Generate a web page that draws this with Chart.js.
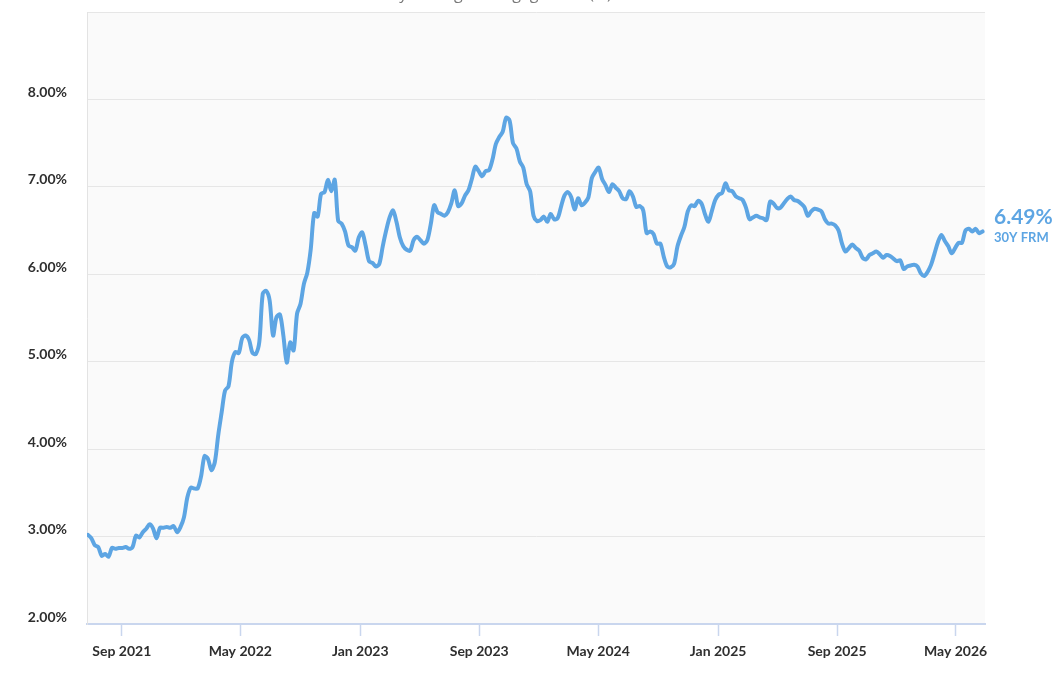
<!DOCTYPE html>
<html>
<head>
<meta charset="utf-8">
<script src="https://cdn.jsdelivr.net/npm/chart.js@4.4.1/dist/chart.umd.min.js"></script>
<style>
  html, body { margin: 0; padding: 0; background: #fff; }
</style>
</head>
<body>
<canvas id="rateChart" width="1064" height="686"></canvas>
<script>
const ctx = document.getElementById("rateChart");

const BLUE = "#5da5e3";
const DAY = 86400000;

const chartTitle = "Weekly Average Mortgage Rate (%)";
const seriesName = "30Y FRM";

// weekly readings, first one on this date, then every 7 days
const firstWeek = "2021-06-24";

const rates2021 = [3.02, 2.98, 2.90, 2.88, 2.78, 2.80, 2.77, 2.87, 2.86, 2.87,
  2.87, 2.88, 2.86, 2.88, 3.01, 2.99, 3.05, 3.09, 3.14, 3.09, 2.98, 3.10, 3.10,
  3.11, 3.10, 3.12, 3.05, 3.11];
const rates2022 = [3.22, 3.45, 3.56, 3.55, 3.55, 3.69, 3.92, 3.89, 3.76, 3.85,
  4.16, 4.42, 4.67, 4.72, 5.00, 5.11, 5.10, 5.27, 5.30, 5.25, 5.10, 5.09, 5.23,
  5.78, 5.81, 5.70, 5.30, 5.51, 5.54, 5.30, 4.99, 5.22, 5.13, 5.55, 5.66, 5.89,
  6.02, 6.29, 6.70, 6.66, 6.92, 6.94, 7.08, 6.95, 7.08, 6.61, 6.58, 6.49, 6.33,
  6.31, 6.27, 6.42];
const rates2023 = [6.48, 6.33, 6.15, 6.13, 6.09, 6.12, 6.32, 6.50, 6.65, 6.73,
  6.60, 6.42, 6.32, 6.28, 6.27, 6.39, 6.43, 6.39, 6.35, 6.39, 6.57, 6.79, 6.71,
  6.69, 6.67, 6.71, 6.81, 6.96, 6.78, 6.81, 6.90, 6.96, 7.09, 7.23, 7.18, 7.12,
  7.18, 7.19, 7.31, 7.49, 7.57, 7.63, 7.79, 7.76, 7.50, 7.44, 7.29, 7.22, 7.03,
  6.95, 6.67, 6.61];
const rates2024 = [6.62, 6.66, 6.60, 6.69, 6.63, 6.64, 6.77, 6.90, 6.94, 6.88,
  6.74, 6.87, 6.79, 6.82, 6.88, 7.10, 7.17, 7.22, 7.09, 7.02, 6.94, 7.03, 6.99,
  6.95, 6.87, 6.86, 6.95, 6.89, 6.77, 6.78, 6.73, 6.47, 6.49, 6.46, 6.35, 6.35,
  6.20, 6.09, 6.08, 6.12, 6.32, 6.44, 6.54, 6.72, 6.79, 6.78, 6.84, 6.81, 6.69,
  6.60, 6.72, 6.85];
const rates2025 = [6.91, 6.93, 7.04, 6.96, 6.95, 6.89, 6.87, 6.85, 6.76, 6.63,
  6.65, 6.67, 6.65, 6.64, 6.62, 6.83, 6.81, 6.76, 6.76, 6.81, 6.86, 6.89, 6.85,
  6.84, 6.81, 6.77, 6.67, 6.72, 6.75, 6.74, 6.72, 6.63, 6.58, 6.58, 6.56, 6.50,
  6.35, 6.26, 6.30, 6.34, 6.30, 6.27, 6.19, 6.17, 6.22, 6.24, 6.26, 6.23, 6.19,
  6.22, 6.21, 6.18, 6.15];
const rates2026 = [6.16, 6.06, 6.09, 6.10, 6.11, 6.09, 6.01, 5.98, 6.03, 6.11,
  6.24, 6.37, 6.45, 6.38, 6.32, 6.24, 6.30, 6.36, 6.36, 6.50, 6.52, 6.49, 6.52,
  6.47, 6.49];

const xRange = ["2021-06-22", "2026-06-30"];
const tickDates = ["2021-09-01", "2022-05-01", "2023-01-01", "2023-09-01",
  "2024-05-01", "2025-01-01", "2025-09-01", "2026-05-01"];
const tickLabels = ["Sep 2021", "May 2022", "Jan 2023", "Sep 2023",
  "May 2024", "Jan 2025", "Sep 2025", "May 2026"];

const rates = [].concat(rates2021, rates2022, rates2023, rates2024, rates2025, rates2026);

function toDay(s) {
  return Date.parse(s + "T00:00:00Z") / DAY;
}

const startDay = toDay(firstWeek);
const points = rates.map((r, i) => ({ x: startDay + 7 * i, y: r }));

const tickFont = { family: "Lato", size: 14, weight: "bold" };

const plotBackground = {
  id: "plotBackground",
  beforeDraw(chart) {
    const a = chart.chartArea;
    const c = chart.ctx;
    c.save();
    c.fillStyle = "#fafafa";
    c.fillRect(a.left, a.top, a.right - a.left, a.bottom - a.top);
    c.restore();
  },
};

// half-hidden title above the plot
const topTitle = {
  id: "topTitle",
  afterDraw(chart) {
    const c = chart.ctx;
    c.save();
    c.font = '16px "Open Sans"';
    c.fillStyle = "#777";
    c.textAlign = "center";
    c.textBaseline = "alphabetic";
    c.fillText(chartTitle, 483, -1);
    c.restore();
  },
};

// value + series name next to the last point
const endLabel = {
  id: "endLabel",
  afterDatasetsDraw(chart) {
    const meta = chart.getDatasetMeta(0);
    const last = meta.data[meta.data.length - 1];
    const c = chart.ctx;
    const x = chart.chartArea.right + 9;
    c.save();
    c.fillStyle = BLUE;
    c.textAlign = "left";
    c.textBaseline = "middle";
    c.font = 'bold 21px Lato';
    c.fillText(rates[rates.length - 1].toFixed(2) + "%", x, last.y - 14);
    c.font = 'bold 13px Lato';
    c.fillText(seriesName, x, last.y + 6);
    c.restore();
  },
};

function noScalePadding(scale) {
  scale.paddingTop = 0;
  scale.paddingBottom = 0;
  scale.paddingLeft = 0;
  scale.paddingRight = 0;
}

new Chart(ctx, {
  type: "line",
  data: {
    datasets: [
      {
        label: seriesName,
        data: points,
        borderColor: BLUE,
        borderWidth: 4,
        pointRadius: 0,
        tension: 0.3,
        borderJoinStyle: "round",
        borderCapStyle: "round",
        fill: false,
      },
    ],
  },
  options: {
    responsive: false,
    animation: false,
    layout: { padding: { top: 12, right: 79, left: 0, bottom: 0 } },
    plugins: {
      legend: { display: false },
      tooltip: { enabled: false },
    },
    scales: {
      x: {
        type: "linear",
        min: toDay(xRange[0]),
        max: toDay(xRange[1]),
        afterBuildTicks: (scale) => {
          scale.ticks = tickDates.map((d) => ({ value: toDay(d) }));
        },
        afterFit: (scale) => {
          scale.height = 62;
          noScalePadding(scale);
        },
        ticks: {
          callback: (value, index) => tickLabels[index],
          autoSkip: false,
          maxRotation: 0,
          padding: 7,
          color: "#2f2f2f",
          font: tickFont,
        },
        grid: {
          drawOnChartArea: false,
          drawTicks: true,
          tickLength: 12,
          tickColor: "#c9d6ee",
          tickWidth: 1.5,
        },
        border: { color: "#c9d6ee", width: 2 },
      },
      y: {
        min: 2,
        max: 9,
        afterFit: (scale) => {
          scale.width = 87;
          noScalePadding(scale);
        },
        ticks: {
          stepSize: 1,
          callback: (v) => (v === 9 ? "" : v.toFixed(2) + "%"),
          padding: 20,
          labelOffset: -7,
          color: "#2f2f2f",
          font: tickFont,
        },
        grid: { color: "#e6e6e6", drawTicks: false },
        border: { color: "#e3e3e3", width: 1 },
      },
    },
  },
  plugins: [plotBackground, endLabel, topTitle],
});
</script>
</body>
</html>
